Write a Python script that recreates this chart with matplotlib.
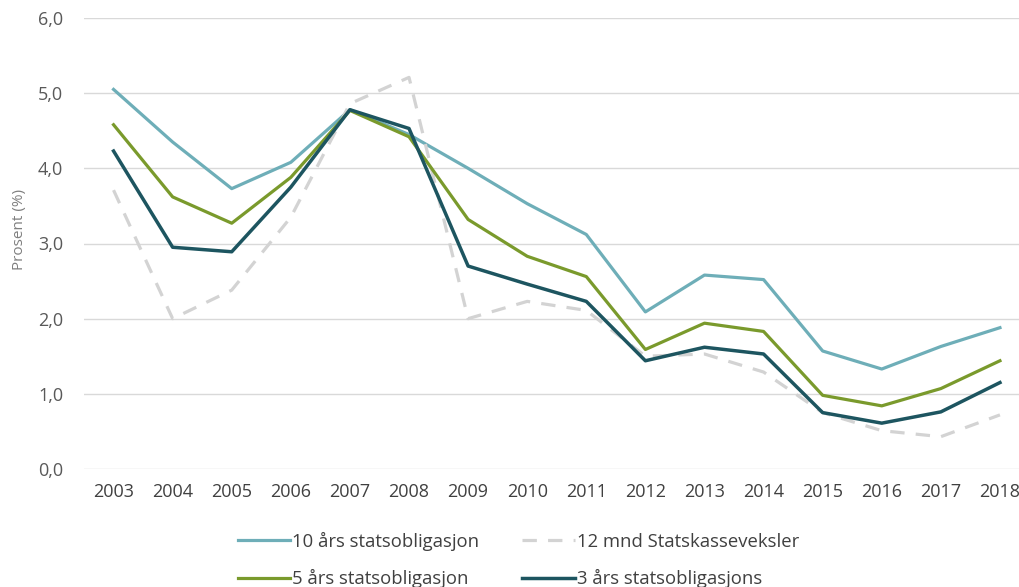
import matplotlib.pyplot as plt

years = list(range(2003, 2019))
ti10 = [5.05, 4.35, 3.73, 4.08, 4.78, 4.45, 4.00, 3.53, 3.12, 2.09, 2.58, 2.52, 1.57, 1.33, 1.63, 1.88]
mnd12 = [3.71, 2.00, 2.38, 3.35, 4.86, 5.21, 2.00, 2.23, 2.11, 1.50, 1.53, 1.29, 0.75, 0.51, 0.43, 0.72]
fem5 = [4.58, 3.62, 3.27, 3.88, 4.77, 4.42, 3.32, 2.83, 2.56, 1.59, 1.94, 1.83, 0.98, 0.84, 1.07, 1.44]
tre3 = [4.23, 2.95, 2.89, 3.75, 4.78, 4.53, 2.70, 2.46, 2.23, 1.44, 1.62, 1.53, 0.75, 0.61, 0.76, 1.15]
labels = ['10 års statsobligasjon', '12 mnd Statskasseveksler',
          '5 års statsobligasjon', '3 års statsobligasjons']

plt.rcParams['font.family'] = ['Open Sans', 'DejaVu Sans']

fig = plt.figure(figsize=(10.19, 5.87), dpi=100)
# category axis runs a little past the right edge, like the original
ax = fig.add_axes([84 / 1019, 1 - 469 / 587, 945.5 / 1019, 451 / 587])

l1, = ax.plot(years, ti10, color='#6eaeb8', lw=2.3)
l2, = ax.plot(years, mnd12, color='#d3d3d3', lw=2.3, dashes=(4.5, 3.5))
l3, = ax.plot(years, fem5, color='#7a9a2c', lw=2.3)
l4, = ax.plot(years, tre3, color='#1d5560', lw=2.5)

ax.set_xlim(2002.5, 2018.5)
ax.set_ylim(0, 6)
ax.set_yticks([0, 1, 2, 3, 4, 5, 6])
ax.set_yticklabels(['0,0', '1,0', '2,0', '3,0', '4,0', '5,0', '6,0'])
ax.set_xticks(years)
ax.grid(axis='y', color='#d9d9d9', lw=1)
ax.set_axisbelow(True)
for s in ax.spines.values():
    s.set_visible(False)
ax.tick_params(length=0, labelsize=13, colors='#595959')
ax.tick_params(axis='x', colors='#404040', pad=10)
ax.tick_params(axis='y', pad=15)
ax.set_ylabel('Prosent (%)', fontsize=11, color='#7f7f7f')
ax.yaxis.set_label_coords(-57 / 945.5, 0.532)

fig.legend([l1, l3, l2, l4], [labels[0], labels[2], labels[1], labels[3]],
           ncol=2, loc='upper left', bbox_to_anchor=(221 / 1019, 1 - 515 / 587),
           frameon=False, fontsize=13.3, labelcolor='#404040',
           handlelength=2.85, handletextpad=0.12, columnspacing=2.3,
           labelspacing=1.0)

fig.savefig('out.png', dpi=100)
